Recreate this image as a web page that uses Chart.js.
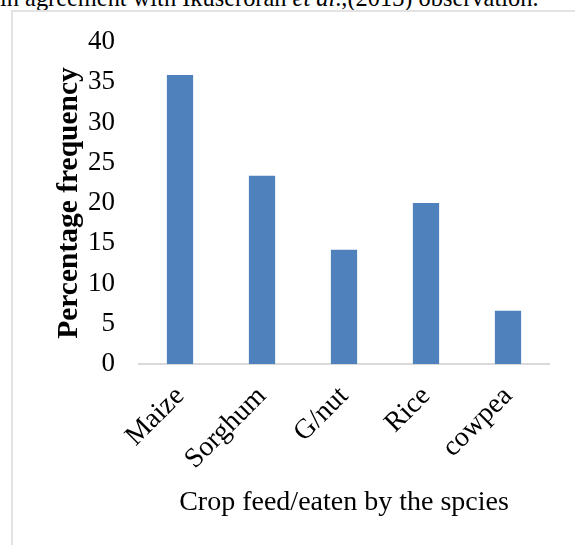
<!DOCTYPE html>
<html>
<head>
<meta charset="utf-8">
<script src="https://cdn.jsdelivr.net/npm/chart.js@4/dist/chart.umd.min.js"></script>
<style>
  html, body { margin: 0; padding: 0; background: #fff; overflow: hidden; }
  #wrap { position: relative; width: 575px; height: 545px; overflow: hidden; }
  #frame { position: absolute; left: 11px; top: 10px; width: 600px; height: 600px;
           border-left: 2px solid #e3e3e3; border-top: 2px solid #e3e3e3; box-sizing: border-box; }
  #para { position: absolute; left: 0; top: -16px; font-family: "Liberation Serif", serif;
          font-size: 24.4px; white-space: nowrap; color: #000; }
  #c { position: absolute; left: 0; top: 0; }
</style>
</head>
<body>
<div id="wrap">
  <div id="para">in agreement with Ikuseroran <i>et al</i>.,(2013) observation.</div>
  <div id="frame"></div>
  <canvas id="c" width="575" height="545"></canvas>
</div>
<script>
const categories = ["Maize", "Sorghum", "G/nut", "Rice", "cowpea"];
const percentageFrequency = [35.9, 23.4, 14.2, 20.0, 6.6];
const yTicks = [0, 5, 10, 15, 20, 25, 30, 35, 40];
const xTitle = "Crop feed/eaten by the spcies";
const yTitle = "Percentage frequency";

const serif = "'Liberation Serif', 'Times New Roman', serif";

new Chart(document.getElementById('c'), {
  type: 'bar',
  data: {
    labels: categories,
    datasets: [{
      data: percentageFrequency,
      backgroundColor: '#4f81bd',
      borderWidth: 0,
      barPercentage: 0.32,
      categoryPercentage: 1.0
    }]
  },
  options: {
    responsive: false,
    animation: false,
    devicePixelRatio: 1,
    layout: { padding: { left: 52, right: 26, top: 42, bottom: 26 } },
    plugins: { legend: { display: false }, tooltip: { enabled: false } },
    scales: {
      x: {
        grid: { display: false, drawTicks: false },
        border: { display: true, color: '#d9d9d9', width: 2 },
        ticks: {
          color: '#000', font: { family: serif, size: 28 },
          minRotation: 45, maxRotation: 45, padding: 16
        },
        title: { display: true, text: xTitle, color: '#000',
                 font: { family: serif, size: 28 }, padding: 0 },
        afterFit: (s) => { s.height = 545 - 26 - 364; }
      },
      y: {
        min: 0, max: 40,
        afterBuildTicks: (s) => { s.ticks = yTicks.map(v => ({ value: v })); },
        grid: { display: false, drawTicks: false },
        border: { display: false },
        ticks: { color: '#000', font: { family: serif, size: 27 }, padding: 24 },
        title: { display: true, text: yTitle, color: '#000',
                 font: { family: serif, size: 29.5, weight: 'bold' }, padding: 0 },
        afterFit: (s) => { s.width = 139 - 52; }
      }
    }
  }
});
</script>
</body>
</html>
